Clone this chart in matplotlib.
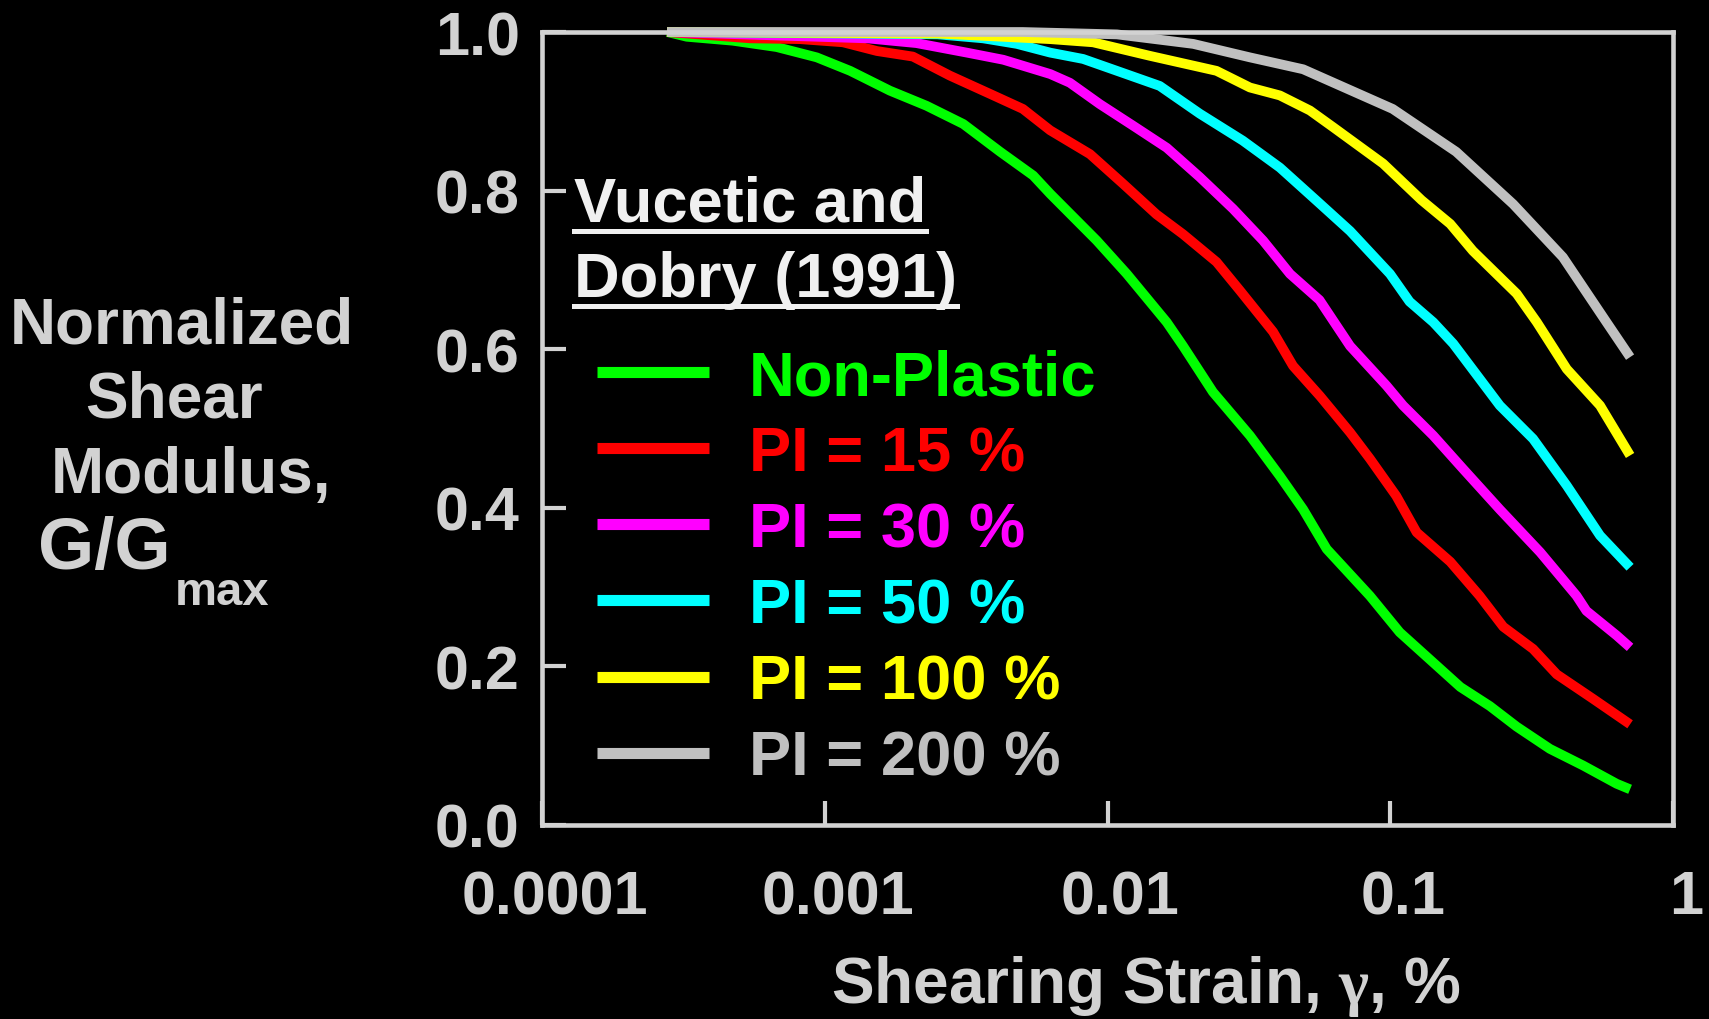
import numpy as np
import matplotlib
matplotlib.use('Agg')
from matplotlib import pyplot as plt
from matplotlib.ticker import NullLocator
from matplotlib.transforms import ScaledTranslation

# Vucetic & Dobry (1991) modulus reduction curves, strain in %
strain_np = [2.77e-4, 3.25e-4, 4.73e-4, 6.76e-4, 9.37e-4, 1.23e-3, 1.70e-3, 2.29e-3, 3.09e-3, 4.17e-3,
             5.46e-3, 6.27e-3, 9.16e-3, 0.0117, 0.0162, 0.0185, 0.0236, 0.0319, 0.0407, 0.0492,
             0.0596, 0.0847, 0.108, 0.177, 0.225, 0.280, 0.367, 0.481, 0.632, 0.705]
gg_np = [1.0, 0.994, 0.989, 0.981, 0.968, 0.951, 0.926, 0.907, 0.884, 0.849,
         0.819, 0.796, 0.737, 0.695, 0.634, 0.604, 0.546, 0.491, 0.440, 0.398,
         0.348, 0.289, 0.243, 0.174, 0.150, 0.124, 0.096, 0.075, 0.052, 0.045]

strain_15 = [2.77e-4, 5.45e-4, 8.17e-4, 1.16e-3, 1.53e-3, 2.05e-3, 2.77e-3, 3.84e-3, 5.02e-3, 6.27e-3,
             8.67e-3, 0.0114, 0.0149, 0.0185, 0.0243, 0.0294, 0.0385, 0.0453, 0.0564, 0.0721,
             0.0847, 0.105, 0.124, 0.163, 0.207, 0.251, 0.320, 0.388, 0.522, 0.705]
gg_15 = [1.0, 0.992, 0.991, 0.987, 0.976, 0.969, 0.945, 0.922, 0.903, 0.876,
         0.846, 0.808, 0.770, 0.745, 0.710, 0.674, 0.622, 0.579, 0.541, 0.495,
         0.462, 0.415, 0.369, 0.332, 0.289, 0.250, 0.222, 0.190, 0.159, 0.127]

strain_30 = [2.77e-4, 1.41e-3, 2.11e-3, 3.18e-3, 4.28e-3, 6.27e-3, 7.36e-3, 9.40e-3, 0.0123, 0.0162,
             0.0212, 0.0278, 0.0355, 0.0442, 0.0562, 0.0721, 0.0970, 0.111, 0.142, 0.181,
             0.244, 0.339, 0.456, 0.494, 0.632, 0.705]
gg_30 = [1.0, 0.992, 0.986, 0.974, 0.965, 0.947, 0.936, 0.909, 0.882, 0.854,
         0.817, 0.777, 0.737, 0.695, 0.662, 0.604, 0.554, 0.529, 0.491, 0.449,
         0.398, 0.344, 0.289, 0.270, 0.239, 0.224]

strain_50 = [2.77e-4, 2.51e-3, 3.63e-3, 4.78e-3, 6.27e-3, 8.20e-3, 0.0108, 0.0153, 0.0212, 0.0301,
             0.0407, 0.0550, 0.0721, 0.0998, 0.117, 0.142, 0.167, 0.244, 0.320, 0.421,
             0.552, 0.705]
gg_50 = [1.0, 0.997, 0.992, 0.985, 0.974, 0.966, 0.951, 0.932, 0.897, 0.863,
         0.829, 0.787, 0.749, 0.695, 0.660, 0.634, 0.607, 0.529, 0.487, 0.428,
         0.365, 0.325]

strain_100 = [2.77e-4, 2.51e-3, 6.27e-3, 8.89e-3, 0.0141, 0.0243, 0.0319, 0.0407, 0.0520, 0.0628,
              0.0944, 0.129, 0.163, 0.196, 0.280, 0.330, 0.421, 0.552, 0.705]
gg_100 = [1.0, 0.998, 0.991, 0.987, 0.970, 0.951, 0.930, 0.920, 0.901, 0.880,
          0.834, 0.788, 0.758, 0.724, 0.670, 0.634, 0.575, 0.529, 0.466]

strain_200 = [2.77e-4, 5.01e-3, 0.0108, 0.0201, 0.0319, 0.0492, 0.102, 0.171, 0.272, 0.408,
              0.582, 0.705]
gg_200 = [1.0, 1.0, 0.997, 0.985, 0.968, 0.953, 0.903, 0.849, 0.783, 0.716,
          0.634, 0.590]

curves = [
    (strain_np, gg_np, '#00ff00', 'Non-Plastic'),
    (strain_15, gg_15, '#ff0000', 'PI = 15 %'),
    (strain_30, gg_30, '#ff00ff', 'PI = 30 %'),
    (strain_50, gg_50, '#00ffff', 'PI = 50 %'),
    (strain_100, gg_100, '#ffff00', 'PI = 100 %'),
    (strain_200, gg_200, '#c0c0c0', 'PI = 200 %'),
]

xticks = [1e-4, 1e-3, 1e-2, 1e-1, 1]
xticklabels = ['0.0001', '0.001', '0.01', '0.1', '1']
yticks = [0.0, 0.2, 0.4, 0.6, 0.8, 1.0]
yticklabels = ['0.0', '0.2', '0.4', '0.6', '0.8', '1.0']

plt.rcParams['font.family'] = 'Liberation Sans'
plt.rcParams['font.weight'] = 'bold'
plt.rcParams['mathtext.fontset'] = 'custom'
plt.rcParams['mathtext.rm'] = 'Liberation Serif'

W, H = 1709, 1020
fig = plt.figure(figsize=(W / 100, H / 100), dpi=100, facecolor='black')
ax = fig.add_axes([542 / W, 1 - 826 / H, (1673 - 542) / W, (826 - 33) / H], facecolor='black')

fg = '#d2d2d2'

for x, y, c, lab in curves:
    ax.plot(x, y, color=c, lw=7, label=lab, solid_capstyle='butt', clip_on=False)

ax.set_xscale('log')
ax.set_xlim(1e-4, 1)
ax.set_ylim(0, 1)
ax.set_xticks(xticks)
ax.set_xticklabels(xticklabels)
ax.xaxis.set_minor_locator(NullLocator())
ax.set_yticks(yticks)
ax.set_yticklabels(yticklabels)

ax.tick_params(direction='in', length=17, width=3, color=fg, labelcolor=fg, labelsize=44)
ax.tick_params(axis='x', pad=32)
ax.tick_params(axis='y', pad=16)
for sp in ax.spines.values():
    sp.set_color(fg)
    sp.set_linewidth(3.3)

# nudge x tick labels a little to the right
shift = ScaledTranslation(0.13, 0, fig.dpi_scale_trans)
for lbl in ax.get_xticklabels():
    lbl.set_transform(lbl.get_transform() + shift)

leg = ax.legend(loc='upper left', bbox_to_anchor=(0.0486, 0.601), frameon=False,
                fontsize=45.5, handlelength=1.78, handletextpad=0.62, labelspacing=0.27,
                borderpad=0, borderaxespad=0, labelcolor='linecolor')
for h in leg.get_lines():
    h.set_linewidth(8)


def px(x, y):
    return x / W, 1 - y / H


# reference title, underlined
t1 = fig.text(*px(574, 222), 'Vucetic and', color='#f0f0f0', fontsize=45.5, va='baseline', ha='left')
t2 = fig.text(*px(574, 297), 'Dobry (1991)', color='#f0f0f0', fontsize=45.5, va='baseline', ha='left')

# y axis title, one line at a time
fig.text(*px(182, 344), 'Normalized', color=fg, fontsize=46, ha='center', va='baseline')
fig.text(*px(174, 418), 'Shear', color=fg, fontsize=46, ha='center', va='baseline')
fig.text(*px(191, 493), 'Modulus,', color=fg, fontsize=46, ha='center', va='baseline')
fig.text(*px(38, 569), 'G/G', color=fg, fontsize=52, ha='left', va='baseline')
fig.text(*px(175, 605), 'max', color=fg, fontsize=34, ha='left', va='baseline')

fig.text(*px(1146, 1003), r'Shearing Strain, $\mathrm{\gamma}$, %', color=fg, fontsize=46,
         ha='center', va='baseline')

fig.canvas.draw()
for t, yline in ((t1, 232), (t2, 307)):
    bb = t.get_window_extent()
    fig.add_artist(plt.Line2D([bb.x0 / W, bb.x1 / W], [1 - yline / H] * 2,
                              transform=fig.transFigure, color='#f0f0f0', lw=3.6))

fig.savefig('out.png', dpi=100, facecolor='black')
